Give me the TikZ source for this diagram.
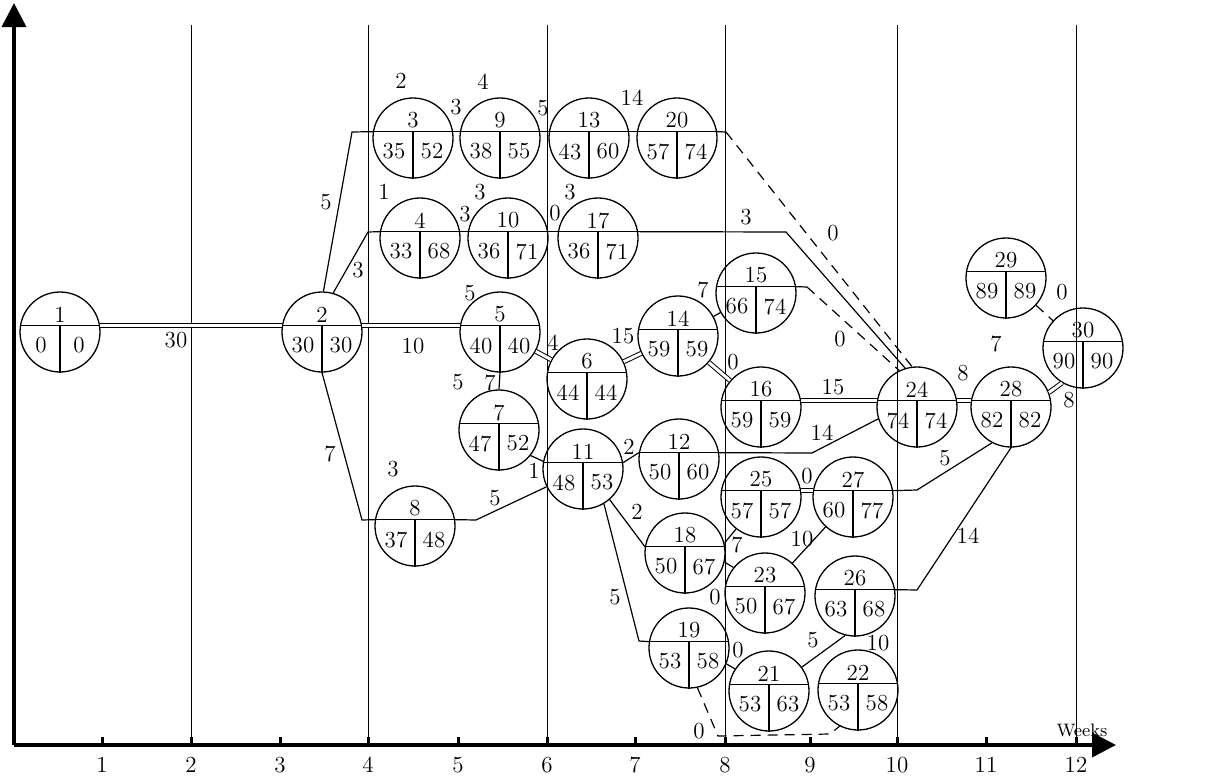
\documentclass[tikz,border=0pt]{standalone}
\usepackage{tikz}
\usetikzlibrary{arrows.meta}

\begin{document}
\begin{tikzpicture}[x=0.5pt, y=-0.5pt, font=\fontsize{11.5}{13}\selectfont,
  evt/.style={circle, draw, line width=0.65pt, minimum size=40pt, inner sep=0pt},
  con/.style={line width=0.6pt},
  crit/.style={double, double distance=1.5pt, line width=0.5pt},
  dum/.style={line width=0.6pt, dash pattern=on 5pt off 3.5pt},
  axis/.style={-{Triangle[length=12pt, width=12pt]}, line width=1.8pt},
  weekline/.style={line width=0.5pt}]
  \useasboundingbox (0,0) rectangle (1210,776);

  % Week lines
  \foreach \gx in {191,368,547,725,897,1076}
    \draw[weekline] (\gx,25) -- (\gx,745);

  % Axes
  \draw[axis] (14,745) -- (1116,745);
  \draw[axis] (14,745) -- (14,3);
  \foreach \t/\tx in {1/102,2/191,3/280,4/368,5/458,6/547,7/635,8/725,9/810,10/897,11/986,12/1076}{
    \draw[line width=1.5pt] (\tx,745) -- (\tx,737);
    \node (wk\t) at (\tx,765) {\t};
  }
  \node[font=\small] (weeks) at (1082,730) {Weeks};

  % Events: number / earliest / latest
  \foreach \n/\px/\py/\es/\lf in {
      1/60/332/0/0, 2/322/332/30/30, 3/413/138/35/52, 4/420/238/33/68,
      5/500/332/40/40, 6/587/379/44/44, 7/499/430/47/52, 8/415/526/37/48,
      9/500/138/38/55, 10/508/238/36/71, 11/583/469/48/53, 12/679/459/50/60,
      13/589/138/43/60, 14/678/336/59/59, 15/756/293/66/74, 16/761/407/59/59,
      17/598/238/36/71, 18/685/553/50/67, 19/689/648/53/58, 20/677/138/57/74,
      21/769/691/53/63, 22/858/690/53/58, 23/765/593/50/67, 24/917/407/74/74,
      25/761/497/57/57, 26/855/596/63/68, 27/853/497/60/77, 28/1011/407/82/82,
      29/1006/278/89/89, 30/1083/348/90/90}{
    \node[evt] (ev\n) at (\px,\py) {};
    \draw[con] (ev\n.171) -- (ev\n.9);
    \draw[con] (\px,\py-6.3) -- (ev\n.south);
    \node (t\n) at (\px,\py-17.5) {\n};
    \node (es\n) at (\px-19,\py+13.5) {\es};
    \node (lf\n) at (\px+19,\py+13.5) {\lf};
  }

  % Critical path
  \draw[crit] (ev1.9) -- (ev2.171);
  \draw[crit] (ev2.9) -- (ev5.171);
  \draw[crit] (ev5) -- (ev6);
  \draw[crit] (ev6) -- (ev14);
  \draw[crit] (ev14) -- (ev16);
  \draw[crit] (ev16.9) -- (ev24.171);
  \draw[crit] (ev24.9) -- (ev28.171);
  \draw[crit] (ev28.21) -- (ev30.239);
  \draw[crit] (ev25.9) -- (ev27.171);

  % Upper chains
  \draw[con] (ev2.88) -- (352,132) -- (ev3.171);
  \draw[con] (ev3.9) -- (ev9.171);
  \draw[con] (ev9.9) -- (ev13.171);
  \draw[con] (ev13.9) -- (ev20.171);
  \draw[con] (ev20.9) -- (726,132);
  \draw[dum] (726,132) -- (ev24.97);
  \draw[con] (ev2.74) -- (368,232) -- (ev4.171);
  \draw[con] (ev4.9) -- (ev10.171);
  \draw[con] (ev10.9) -- (ev17.171);
  \draw[con] (ev17.9) -- (786,232) -- (ev24.107);
  \draw[con] (ev14) -- (ev15);
  \draw[con] (ev15.9) -- (807,287);
  \draw[dum] (807,287) -- (ev24.116);
  \draw[dum] (ev29) -- (ev30);

  % Lower chains
  \draw[con] (ev5.south) -- (ev7.north);
  \draw[con] (ev2.south) -- (362,520) -- (ev8.171);
  \draw[con] (ev8.9) -- (476,520) -- (ev11.206);
  \draw[con] (ev7.-39) -- (ev11.169);
  \draw[con] (ev11.9) -- (ev12.171);
  \draw[con] (ev12.9) -- (812,453) -- (ev24.197);
  \draw[con] (ev11.-49) -- (ev18.171);
  \draw[con] (ev11.-59) -- (639,641) -- (ev19.171);
  \draw[con] (ev18.14) -- (ev25.232);
  \draw[con] (ev18.-13) -- (ev23.141);
  \draw[con] (ev23) -- (ev27);
  \draw[con] (ev27.9) -- (917,490) -- (ev28.242);
  \draw[con] (ev26.9) -- (917,590) -- (ev28.south);
  \draw[con] (ev19.-23) -- (ev21.147);
  \draw[con] (ev21.36) -- (ev26.256);
  \draw[dum] (ev19.282) -- (718,736) -- (830,734) -- (ev22.243);

  % Durations
  \foreach \lx/\ly/\d [count=\k] in {
      176/340/30, 413/346/10, 326/202/5, 358/270/3, 330/454/7,
      401/81/2, 456/107/3, 483/82/4, 543/108/5, 632/98/14,
      384/192/1, 465/214/3, 480/192/3, 555/213/0, 570/192/3,
      746/217/3, 833/233/0, 840/339/0, 470/293/5, 553/343/4,
      458/382/5, 490/383/7, 623/336/15, 703/290/7, 733/362/0,
      833/387/15, 963/373/8, 996/344/7, 1062/292/0, 1069/400/8,
      393/469/3, 495/498/5, 534/471/1, 629/447/2, 822/433/14,
      637/512/2, 615/597/5, 737/545/7, 715/597/0, 802/539/10,
      807/476/0, 945/458/5, 968/536/14, 738/650/0, 813/640/5,
      878/643/10, 699/731/0}
    \node (d\k) at (\lx,\ly) {\d};
\end{tikzpicture}
\end{document}
